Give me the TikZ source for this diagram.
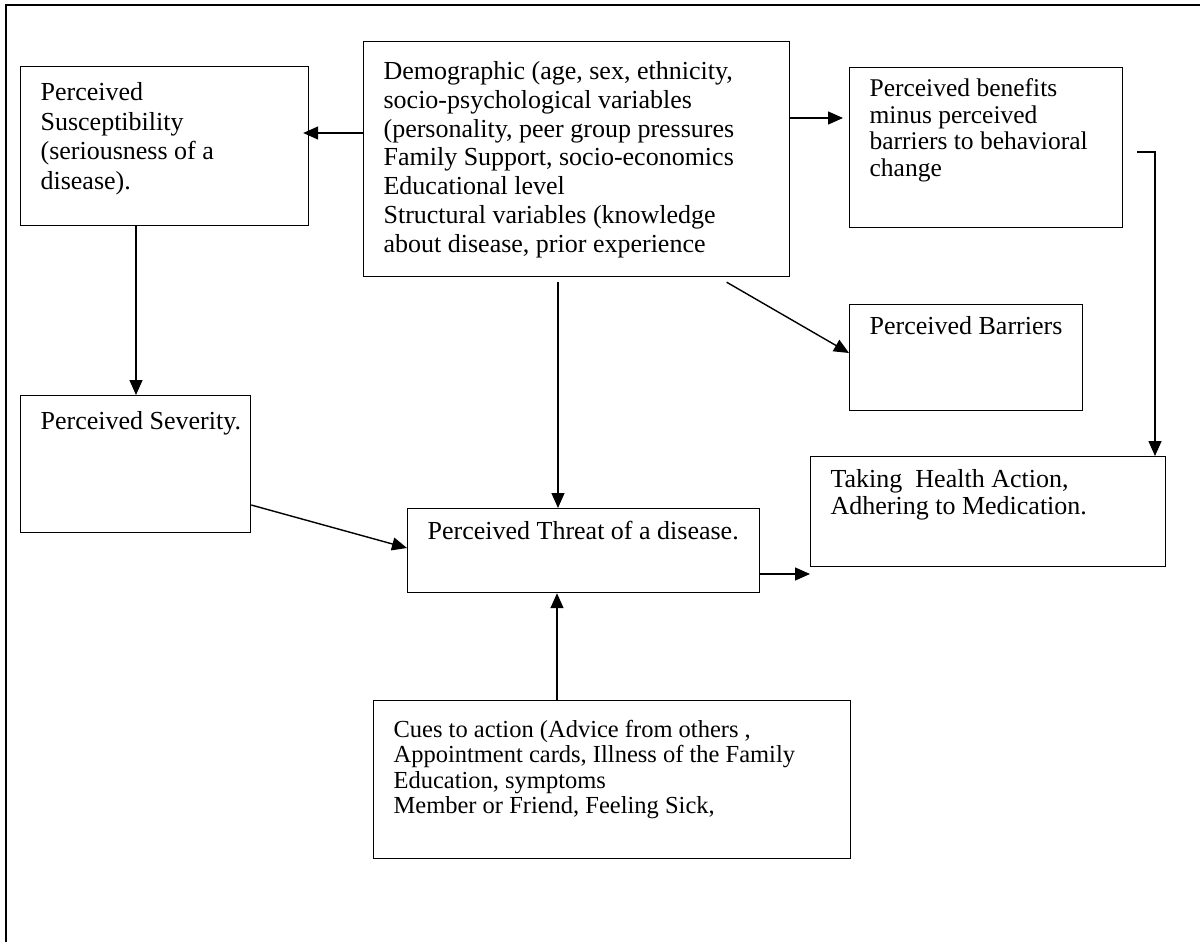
\documentclass[tikz,border=0pt]{standalone}
\usepackage{fontspec}
\setmainfont{Liberation Serif}
\usetikzlibrary{arrows.meta}
\tikzset{
 box/.style={draw, line width=1.2pt, anchor=north west, inner xsep=20pt, inner ysep=0pt,
             text height=34pt, font=\fontsize{26}{29.5}\selectfont},
 tight/.style={font=\fontsize{25.5}{26.5}\selectfont},
 flow/.style={-{Triangle[length=15pt,width=13pt]}, line width=1.4pt},
 frame/.style={line width=2.4pt}
}
\newcommand{\boxtext}[2]{\makebox[#1][l]{\begin{tabular}[t]{@{}l@{}}#2\end{tabular}}}

\begin{document}
\begin{tikzpicture}[x=1pt, y=-1pt]
\useasboundingbox (0,0) rectangle (1200,942);
\draw[frame] (6,942) -- (6,5) -- (1200,5);

\node[box, text depth=125pt] (sus) at (20,66) {\boxtext{248pt}{Perceived\\Susceptibility\\(seriousness of a\\disease).}};
\node[box, font=\fontsize{26}{28.8}\selectfont, text height=38pt, text depth=197pt] (demo) at (363,41) {\boxtext{386pt}{Demographic (age, sex, ethnicity,\\socio-psychological variables\\(personality, peer group pressures\\Family Support, socio-economics\\Educational level\\Structural variables (knowledge\\about disease, prior experience}};
\node[box, tight, text height=29pt, text depth=131pt] (ben) at (849,67) {\boxtext{233pt}{Perceived benefits\\minus perceived\\barriers to behavioral\\change}};
\node[box, text height=30pt, text depth=76pt] (bar) at (849,304) {\boxtext{193pt}{Perceived Barriers}};
\node[box, text depth=103pt] (sev) at (20,395) {\boxtext{190pt}{Perceived Severity.}};
\node[box, text height=31pt, text depth=53pt] (thr) at (407,508) {\boxtext{312pt}{Perceived Threat of a disease.}};
\node[box, font=\fontsize{26}{27}\selectfont, text height=31pt, text depth=79pt] (act) at (810,456) {\boxtext{315pt}{Taking\ \ Health Action,\\Adhering to Medication.}};
\node[box, font=\fontsize{24.5}{25.3}\selectfont, text height=37pt, text depth=121pt] (cues) at (373,700) {\boxtext{437pt}{Cues to action (Advice from others ,\\Appointment cards, Illness of the Family\\Education, symptoms\\Member or Friend, Feeling Sick,}};

\draw[flow, shorten >=-6pt] (demo.west |- 0,133) -- (sus.east |- 0,133);
\draw[flow, shorten >=6pt] (demo.east |- 0,118) -- (ben.west |- 0,118);
\draw[flow] (sus.south -| 136,0) -- (sev.north -| 136,0);
\draw[flow, shorten <=5pt] (demo.south -| 558,0) -- (thr.north -| 558,0);
\draw[flow, shorten <=10pt] (demo.south -| 718,0) -- (bar.west |- 0,353);
\draw[flow] (sev.east |- 0,505) -- (thr.west |- 0,548);
\draw[flow] (thr.east |- 0,574) -- (act.west |- 0,574);
\draw[flow] (cues.north -| 557,0) -- (thr.south -| 557,0);
\draw[flow, shorten <=14pt] (ben.east |- 0,152) -| (act.north -| 1155,0);
\end{tikzpicture}
\end{document}
